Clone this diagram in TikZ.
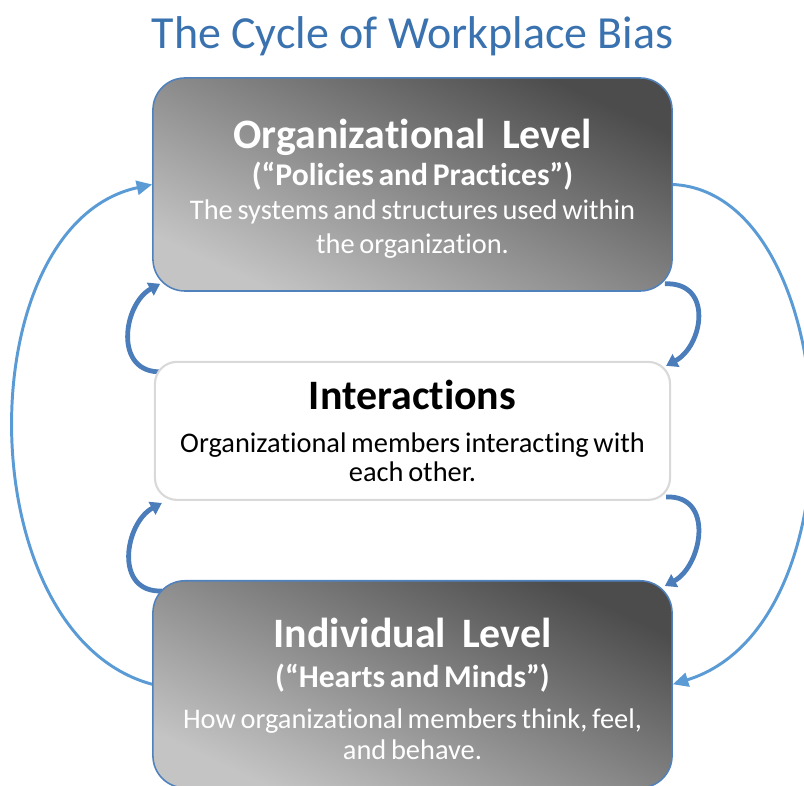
\documentclass[tikz,border=0pt]{standalone}
\usepackage{fontspec}
\setmainfont{Carlito}[Ligatures=NoCommon]
\usetikzlibrary{positioning,arrows.meta,backgrounds}

\definecolor{titleblue}{RGB}{58,114,175}
\definecolor{edgeblue}{RGB}{79,129,189}
\definecolor{cycleblue}{RGB}{91,155,213}
\definecolor{loopblue}{RGB}{74,125,185}
\definecolor{boxdark}{RGB}{76,76,76}
\definecolor{boxmid}{RGB}{104,104,104}
\definecolor{boxlight}{RGB}{196,196,196}
\definecolor{linkgray}{RGB}{217,217,217}

% a taller first line keeps the text of the level boxes a little lower
\newcommand\headfont{\bfseries\fontsize{29.8}{36}\selectfont}
\newcommand\headstrut{\rule{0pt}{27pt}}
\newcommand\subfont[1]{\bfseries\fontsize{22.5}{#1}\selectfont}
\newcommand\descfont[1]{\mdseries\fontsize{20.2}{#1}\selectfont}

\begin{document}
\begin{tikzpicture}[x=0.025cm,y=-0.025cm,inner sep=0pt,
  level box/.style={rounded corners=0.8cm,draw=edgeblue,line width=1.1pt,top color=boxdark,middle color=boxmid,bottom color=boxlight,shading angle=-25,text=white,text width=12.6cm,align=center,minimum width=12.975cm},
  link box/.style={rounded corners=0.55cm,draw=linkgray,line width=1.5pt,fill=white,text width=12.6cm,align=center,minimum width=12.875cm,minimum height=3.45cm},
  cycle arrow/.style={-{Triangle[length=11pt,width=10pt]},draw=cycleblue,line width=2.1pt},
  loop arrow/.style={-{Triangle[length=8pt,width=10pt]},draw=loopblue,line width=3.4pt}]
  \useasboundingbox (0,0) rectangle (804,786);

  \node[level box,minimum height=5.325cm] (org) at (412.5,184.5)
    {\headfont\headstrut Organizational\hspace{0.27em} Level\par
     \subfont{26.3}(“Policies and Practices”)\par
     \descfont{24.2}The systems and structures used within\\the organization.\par};
  \node[link box,below=1.725cm of org] (inter)
    {\headfont Interactions\par\vspace{10pt}
     \descfont{20.6}Organizational members interacting with\\each other.\par};
  \node[level box,minimum height=5.175cm,below=1.975cm of inter] (indiv)
    {\headfont\headstrut Individual\hspace{0.27em} Level\par
     \subfont{28.5}(“Hearts and Minds”)\par
     \descfont{22}\vspace{7pt}How organizational members think, feel,\\and behave.\par};
  \node[above=0.52cm of org,text=titleblue,font=\fontsize{32.7}{39}\selectfont] (title) {The Cycle of Workplace Bias};

  \begin{pgfonlayer}{background}
    % outer cycle
    \draw[cycle arrow] (indiv.west) .. controls +(-185,-50) and +(-185,40) .. (org.west);
    \draw[cycle arrow] (org.east) .. controls +(170,8) and +(195,-60) .. (indiv.east);
    % short loops between the levels
    \draw[loop arrow] ([shift={(8,11)}]inter.north west) .. controls +(-49,2) and +(-37,20) .. ([shift={(8,-8)}]org.south west);
    \draw[loop arrow] ([shift={(-8,-8)}]org.south east) .. controls +(49,-2) and +(37,-20) .. ([shift={(-5,5)}]inter.north east);
    \draw[loop arrow] ([shift={(10,11)}]indiv.north west) .. controls +(-49,2) and +(-37,20) .. ([shift={(8,2)}]inter.south west);
    \draw[loop arrow] ([shift={(-5,-4)}]inter.south east) .. controls +(49,-2) and +(37,-20) .. ([shift={(-8,6)}]indiv.north east);
  \end{pgfonlayer}
\end{tikzpicture}
\end{document}
